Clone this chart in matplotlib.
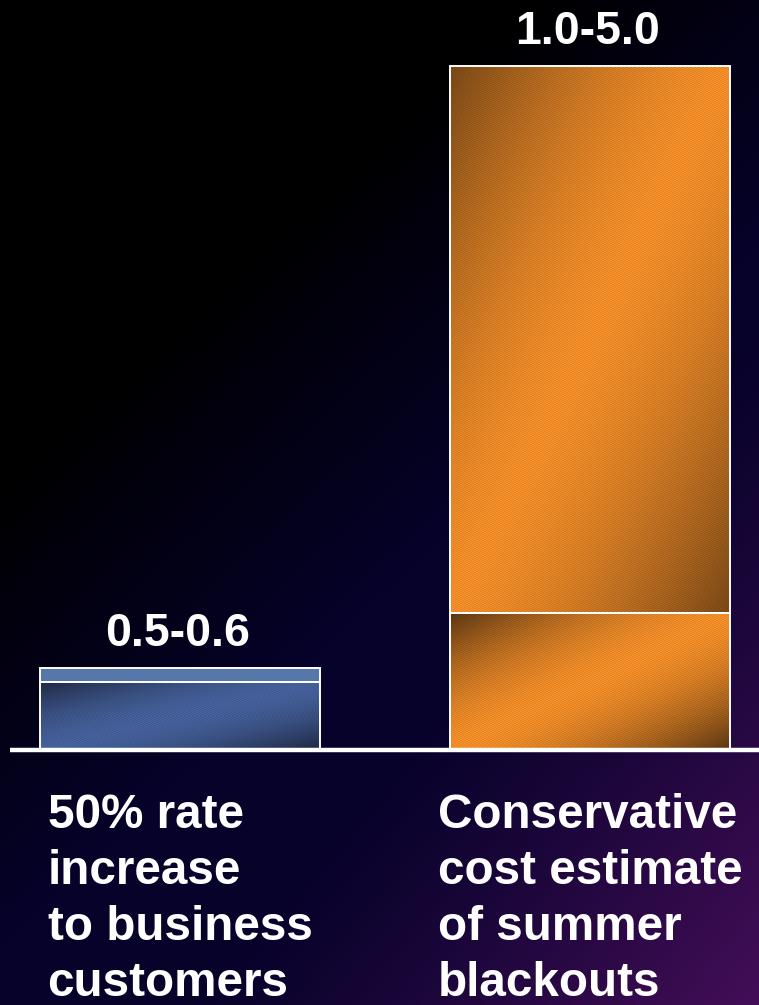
import numpy as np
import matplotlib
matplotlib.use("Agg")
import matplotlib.pyplot as plt

# ---- data ----
categories = ["50% rate\nincrease\nto business\ncustomers",
              "Conservative\ncost estimate\nof summer\nblackouts"]
range_low = [0.5, 1.0]
range_high = [0.6, 5.0]
range_labels = ["0.5-0.6", "1.0-5.0"]

W, H = 759, 1005
fig = plt.figure(figsize=(W / 100, H / 100), dpi=100)

# ---- background: black top-left fading to navy, purple glow bottom-right ----
bg_ax = fig.add_axes([0, 0, 1, 1], zorder=0)
yy, xx = np.mgrid[0:H, 0:W]
u = xx / W
v = yy / H
navy = np.clip((u * 0.9 + v * 1.3 - 0.62) / 0.6, 0, 1)[..., None]
purple = (np.clip((u * 0.9 + v - 1.2) / 0.7, 0, 1) ** 1.2)[..., None]
c_navy = np.array([6, 2, 42]) / 255
c_purple = np.array([68, 14, 88]) / 255
bg = navy * c_navy
bg = bg * (1 - purple) + purple * c_purple
bg_ax.imshow(bg, extent=(0, W, H, 0), aspect="auto", interpolation="bilinear")
bg_ax.set_axis_off()

# ---- main axes ----
ax = fig.add_axes([0, 0, 1, 1], zorder=1)
ax.patch.set_alpha(0)
px_per_unit = 136.8
baseline_px = 750
ax.set_ylim(-(H - baseline_px) / px_per_unit, baseline_px / px_per_unit)
spacing = 410.0
center0 = 180.0
ax.set_xlim(-center0 / spacing, (W - center0) / spacing)
ax.set_axis_off()

bar_w = 280 / spacing
xpos = np.arange(len(categories))


def shade_fill(patch, c_bright, c_dark, center, width, power):
    """Fill a bar patch with a diagonal sheen and a fine pixel weave."""
    x0, y0 = patch.get_x(), patch.get_y()
    w, h = patch.get_width(), patch.get_height()
    nx = max(int(round(w * spacing)), 2)
    ny = max(int(round(h * px_per_unit)), 2)
    gy, gx = np.mgrid[0:ny, 0:nx]
    s = gx / (nx - 1)
    t = gy / (ny - 1)            # 0 at top
    d = (s + t) / 2.0            # diagonal coordinate
    k = 1 - np.clip(np.abs(d - center) / width, 0, 1) ** power
    k = np.clip(k, 0, 1)[..., None]
    img = c_dark + (c_bright - c_dark) * k
    weave = 1 + 0.045 * (((gx // 2) + gy) % 2 * 2 - 1)
    img = np.clip(img * weave[..., None], 0, 1)
    im = ax.imshow(img, extent=(x0, x0 + w, y0, y0 + h), origin="upper",
                   aspect="auto", interpolation="nearest", zorder=2)
    im.set_clip_path(patch)


blue_bright = np.array([0x44, 0x60, 0x9a]) / 255
blue_dark = np.array([0x1e, 0x28, 0x42]) / 255
blue_top = "#5577aa"
orange_bright = np.array([0xf0, 0x8c, 0x28]) / 255
orange_dark = np.array([0x5a, 0x36, 0x12]) / 255

low_bars = ax.bar(xpos, range_low, width=bar_w, bottom=0,
                  facecolor="none", edgecolor="white", linewidth=1.4, zorder=3)
top_bars = ax.bar(xpos, np.array(range_high) - np.array(range_low), width=bar_w,
                  bottom=range_low, facecolor="none", edgecolor="white",
                  linewidth=1.4, zorder=3)

# left bar: blue sheen base, flat lighter blue top
shade_fill(low_bars[0], blue_bright, blue_dark, 0.5, 0.5, 1.6)
ax.bar(xpos[0], range_high[0] - range_low[0], width=bar_w, bottom=range_low[0],
       color=blue_top, zorder=2)
# right bar: orange sheen in both segments
shade_fill(low_bars[1], orange_bright, orange_dark, 0.5, 0.5, 1.6)
shade_fill(top_bars[1], orange_bright, orange_dark, 0.5, 0.58, 1.5)

# baseline
ax.hlines(0, (10 - center0) / spacing, (W - center0) / spacing,
          color="white", linewidth=3.2, zorder=4)

font = ["Liberation Sans", "DejaVu Sans"]

# range labels above bars
for i, lbl in enumerate(range_labels):
    ax.annotate(lbl, (xpos[i], range_high[i]), xytext=(-2, 16),
                textcoords="offset points", ha="center", va="baseline",
                fontsize=33.5, fontweight="bold", color="white",
                family=font, zorder=5)

# category labels under the axis
for i, cat in enumerate(categories):
    ax.text(xpos[i], -(793 - baseline_px) / px_per_unit, cat, ha="center",
            va="top", multialignment="left", fontsize=34.3, fontweight="bold",
            color="white", family=font, linespacing=1.31, zorder=5)

fig.savefig("out.png", dpi=100)
